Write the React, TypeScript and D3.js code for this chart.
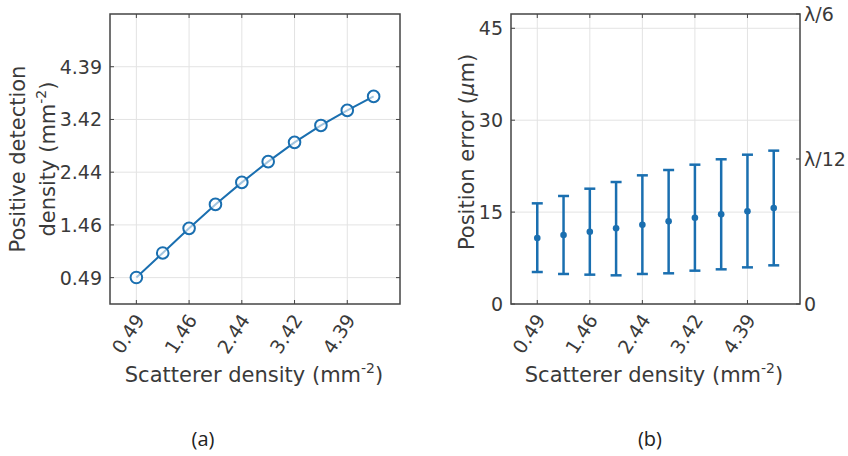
import React from "react";
import * as d3 from "d3";

const xVals = [0.4875, 0.975, 1.4625, 1.95, 2.4375, 2.925, 3.4125, 3.9, 4.3875, 4.875];
const xTicks = [0.4875, 1.4625, 2.4375, 3.4125, 4.3875];
const xTickLabels = ["0.49", "1.46", "2.44", "3.42", "4.39"];
const yTicksA = [0.4875, 1.4625, 2.4375, 3.4125, 4.3875];
const yTickLabelsA = ["0.49", "1.46", "2.44", "3.42", "4.39"];
const detection = [0.49, 0.944, 1.399, 1.842, 2.249, 2.632, 2.989, 3.302, 3.58, 3.839];

const yTicksB = [0, 15, 30, 45];
const yTickLabelsB = ["0", "15", "30", "45"];
const yTicksBRight = [0, 23.667, 47.333];
const yTickLabelsBRight = ["0", "λ/12", "λ/6"];
const errMean = [10.77, 11.26, 11.8, 12.35, 12.94, 13.49, 14.08, 14.64, 15.13, 15.67];
const errUpper = [16.43, 17.63, 18.82, 19.91, 21.0, 21.87, 22.74, 23.62, 24.37, 25.03];
const errLower = [5.22, 4.9, 4.79, 4.68, 4.9, 5.01, 5.44, 5.66, 5.98, 6.31];

const FONT = "DejaVu Sans";
const TXT = "#3a3a3a";
const AX = "#444";
const GRID = "#e3e3e3";
const BLUE = "#1a6fb0";
const TICK_FS = 19;
const LABEL_FS = 21;

const top = 14, bottom = 304;
const xDomain: [number, number] = [0, 5.3625];

function XLabel({ cx }: { cx: number }) {
  return (
    <text x={cx} y={382} textAnchor="middle" fontFamily={FONT} fontSize={LABEL_FS} fill={TXT}>
      Scatterer density (mm<tspan dy={-9} fontSize={14}>-2</tspan><tspan dy={9}>)</tspan>
    </text>
  );
}

function Frame({ x, y, xt, yt }: { x: any; y: any; xt: number[]; yt: number[] }) {
  const [l, r] = x.range();
  return (
    <g>
      {xt.map((t, i) => (
        <line key={"gx" + i} x1={x(t)} x2={x(t)} y1={top} y2={bottom} stroke={GRID} strokeWidth={1} />
      ))}
      {yt.map((t, i) => (
        <line key={"gy" + i} x1={l} x2={r} y1={y(t)} y2={y(t)} stroke={GRID} strokeWidth={1} />
      ))}
    </g>
  );
}

function XAxisTicks({ x }: { x: any }) {
  return (
    <g>
      {xTicks.map((t, i) => (
        <g key={i}>
          <line x1={x(t)} x2={x(t)} y1={bottom} y2={bottom - 4} stroke={AX} strokeWidth={1} />
          <line x1={x(t)} x2={x(t)} y1={top} y2={top + 4} stroke={AX} strokeWidth={1} />
          <text
            transform={`translate(${x(t) + 3},${bottom + 12}) rotate(-57)`}
            textAnchor="end"
            dominantBaseline="central"
            fontFamily={FONT}
            fontSize={TICK_FS}
            fill={TXT}
          >
            {xTickLabels[i]}
          </text>
        </g>
      ))}
    </g>
  );
}

function PanelA() {
  const x = d3.scaleLinear(xDomain, [110, 400]);
  const y = d3.scaleLinear([0, 5.3625], [bottom, top]);
  const line = d3.line<number>().x((_, i) => x(xVals[i])).y((d) => y(d));
  return (
    <g>
      <Frame x={x} y={y} xt={xTicks} yt={yTicksA} />
      <path d={line(detection) || ""} fill="none" stroke={BLUE} strokeWidth={2} />
      {detection.map((d, i) => (
        <circle key={i} cx={x(xVals[i])} cy={y(d)} r={5.8} fill="white" fillOpacity={0.6} stroke={BLUE} strokeWidth={2} />
      ))}
      <rect x={110} y={top} width={290} height={bottom - top} fill="none" stroke={AX} strokeWidth={1.5} />
      <XAxisTicks x={x} />
      {yTicksA.map((t, i) => (
        <g key={i}>
          <line x1={110} x2={114} y1={y(t)} y2={y(t)} stroke={AX} strokeWidth={1} />
          <line x1={400} x2={396} y1={y(t)} y2={y(t)} stroke={AX} strokeWidth={1} />
          <text x={102} y={y(t)} textAnchor="end" dominantBaseline="central" fontFamily={FONT} fontSize={TICK_FS} fill={TXT}>
            {yTickLabelsA[i]}
          </text>
        </g>
      ))}
      <text transform={`translate(25,159) rotate(-90)`} textAnchor="middle" fontFamily={FONT} fontSize={LABEL_FS} fill={TXT}>
        Positive detection
      </text>
      <text transform={`translate(55,159) rotate(-90)`} textAnchor="middle" fontFamily={FONT} fontSize={LABEL_FS} fill={TXT}>
        density (mm<tspan dy={-9} fontSize={14}>-2</tspan><tspan dy={9}>)</tspan>
      </text>
      <XLabel cx={254} />
      <text x={203} y={446} textAnchor="middle" fontFamily="Open Sans" fontSize={20} fill="#222">
        (a)
      </text>
    </g>
  );
}

function PanelB() {
  const x = d3.scaleLinear(xDomain, [511, 800]);
  const y = d3.scaleLinear([0, 47.333], [bottom, top]);
  const cap = 5.5;
  return (
    <g>
      <Frame x={x} y={y} xt={xTicks} yt={yTicksB} />
      {errMean.map((m, i) => {
        const cx = x(xVals[i]);
        return (
          <g key={i} stroke={BLUE} strokeWidth={2.5}>
            <line x1={cx} x2={cx} y1={y(errLower[i])} y2={y(errUpper[i])} />
            <line x1={cx - cap} x2={cx + cap} y1={y(errUpper[i])} y2={y(errUpper[i])} />
            <line x1={cx - cap} x2={cx + cap} y1={y(errLower[i])} y2={y(errLower[i])} />
            <circle cx={cx} cy={y(m)} r={3.3} fill={BLUE} stroke="none" />
          </g>
        );
      })}
      <rect x={511} y={top} width={289} height={bottom - top} fill="none" stroke={AX} strokeWidth={1.5} />
      <XAxisTicks x={x} />
      {yTicksB.map((t, i) => (
        <g key={i}>
          <line x1={511} x2={515} y1={y(t)} y2={y(t)} stroke={AX} strokeWidth={1} />
          <text x={503} y={y(t)} textAnchor="end" dominantBaseline="central" fontFamily={FONT} fontSize={TICK_FS} fill={TXT}>
            {yTickLabelsB[i]}
          </text>
        </g>
      ))}
      {yTicksBRight.map((t, i) => (
        <g key={i}>
          <line x1={800} x2={796} y1={y(t)} y2={y(t)} stroke={AX} strokeWidth={1} />
          <text x={804} y={y(t)} textAnchor="start" dominantBaseline="central" fontFamily={FONT} fontSize={TICK_FS} fill={TXT}>
            {yTickLabelsBRight[i]}
          </text>
        </g>
      ))}
      <text transform={`translate(474,152) rotate(-90)`} textAnchor="middle" fontFamily={FONT} fontSize={LABEL_FS} fill={TXT}>
        Position error (<tspan fontStyle="italic">μ</tspan>m)
      </text>
      <XLabel cx={654} />
      <text x={650} y={446} textAnchor="middle" fontFamily="Open Sans" fontSize={20} fill="#222">
        (b)
      </text>
    </g>
  );
}

export default function App() {
  return (
    <svg
      width={848}
      height={456}
      style={{ position: "absolute", left: 0, top: 0, background: "white" }}
    >
      <rect width={848} height={456} fill="white" />
      <PanelA />
      <PanelB />
    </svg>
  );
}
